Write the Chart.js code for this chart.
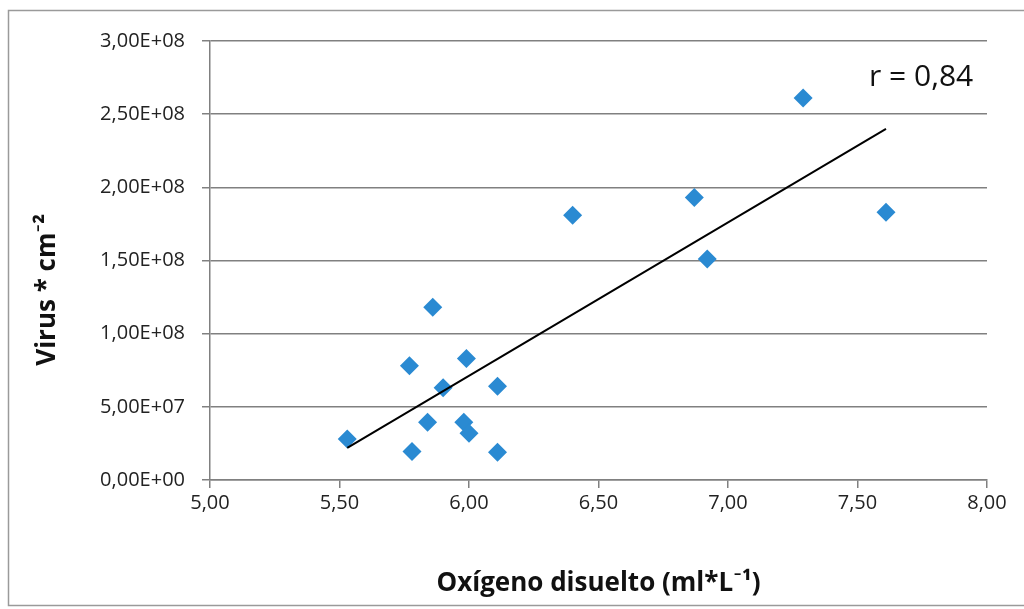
<!DOCTYPE html>
<html><head><meta charset="utf-8">
<script src="https://cdn.jsdelivr.net/npm/chart.js@4/dist/chart.umd.min.js"></script>
<style>html,body{margin:0;padding:0;background:#fff;overflow:hidden}</style>
</head><body>
<canvas id="c" width="1024" height="609" style="display:block;width:1024px;height:609px"></canvas>
<script>
// ---- data ----
const oxygen = [5.86, 5.77, 5.99, 5.90, 6.11, 5.84, 5.98, 6.00, 5.53, 5.78, 6.11, 7.29, 6.87, 6.40, 7.61, 6.92];
const virus  = [1.18e8, 7.8e7, 8.3e7, 6.3e7, 6.4e7, 3.95e7, 3.95e7, 3.2e7, 2.8e7, 1.95e7, 1.9e7, 2.61e8, 1.93e8, 1.81e8, 1.83e8, 1.51e8];
const trendX = [5.53, 7.61];
const trendY = [2.2e7, 2.4e8];
const xTicks = [5, 5.5, 6, 6.5, 7, 7.5, 8];
const yTicks = [0, 5e7, 1e8, 1.5e8, 2e8, 2.5e8, 3e8];
const rLabel = 'r = 0,84';
const xTitle = 'Oxígeno disuelto (ml*L\u207B\u00B9)';
const yTitle = 'Virus * cm\u207B\u00B2';

const FONT = '"Open Sans", Lato, "Liberation Sans", sans-serif';
const GRID = '#808080';

function fmtY(v) {
  const [m, e] = Number(v).toExponential(2).split('e');
  const sign = e[0] === '-' ? '-' : '+';
  const d = e.replace(/[+-]/, '').padStart(2, '0');
  return m.replace('.', ',') + 'E' + sign + d;
}
function fmtX(v) { return Number(v).toFixed(2).replace('.', ','); }

const decor = {
  id: 'decor',
  beforeDraw(chart) {
    const ctx = chart.ctx;
    ctx.save();
    ctx.fillStyle = '#fff';
    ctx.fillRect(0, 0, chart.width, chart.height);
    ctx.strokeStyle = '#9a9a9a';
    ctx.lineWidth = 1.5;
    ctx.beginPath();
    ctx.moveTo(1030, 10.5);
    ctx.lineTo(8.5, 10.5);
    ctx.lineTo(8.5, 605.5);
    ctx.lineTo(1030, 605.5);
    ctx.stroke();
    ctx.restore();
  },
  afterDraw(chart) {
    const ctx = chart.ctx;
    ctx.save();
    ctx.fillStyle = '#111';
    ctx.font = '30px ' + FONT;
    ctx.textAlign = 'left';
    ctx.textBaseline = 'middle';
    ctx.fillText(rLabel, 869, 77);
    ctx.restore();
  }
};

new Chart(document.getElementById('c'), {
  type: 'scatter',
  data: {
    datasets: [
      {
        label: 'Virus',
        data: oxygen.map((x, i) => ({ x, y: virus[i] })),
        pointStyle: 'rectRot',
        pointRadius: 9.5,
        pointHoverRadius: 9.5,
        backgroundColor: '#2a8ad2',
        borderColor: '#2a8ad2',
        borderWidth: 0,
        order: 2
      },
      {
        label: 'Tendencia',
        data: trendX.map((x, i) => ({ x, y: trendY[i] })),
        showLine: true,
        pointRadius: 0,
        borderColor: '#000',
        borderWidth: 2,
        order: 1
      }
    ]
  },
  options: {
    responsive: false,
    animation: false,
    devicePixelRatio: 1,
    layout: { padding: { left: 0, top: 41, right: 37, bottom: 0 } },
    plugins: { legend: { display: false }, tooltip: { enabled: false } },
    scales: {
      x: {
        type: 'linear',
        min: 5, max: 8,
        afterBuildTicks(s) { s.ticks = xTicks.map(v => ({ value: v })); },
        afterFit(s) { s.height = 129; },
        ticks: {
          callback: v => fmtX(v),
          font: { family: FONT, size: 20 },
          color: '#222',
          padding: 3,
          maxRotation: 0
        },
        grid: { drawOnChartArea: false, drawTicks: true, tickLength: 8, color: GRID, lineWidth: 1.5 },
        border: { display: true, color: GRID, width: 1.5 },
        title: {
          display: true,
          text: xTitle,
          font: { family: FONT, size: 26, weight: 'bold' },
          color: '#111',
          padding: { top: 0, bottom: 10 }
        }
      },
      y: {
        type: 'linear',
        min: 0, max: 3e8,
        afterBuildTicks(s) { s.ticks = yTicks.map(v => ({ value: v })); },
        afterFit(s) { s.width = 210; },
        ticks: {
          callback: v => fmtY(v),
          font: { family: FONT, size: 20 },
          color: '#222',
          padding: 17
        },
        grid: { drawOnChartArea: true, drawTicks: true, tickLength: 8, color: GRID, lineWidth: 1.5 },
        border: { display: true, color: GRID, width: 1.5 },
        title: {
          display: true,
          text: yTitle + '\u2002\u2002\u2002\u2002 ',
          font: { family: FONT, size: 26, weight: 'bold' },
          color: '#111',
          padding: { top: 32, bottom: 0 }
        }
      }
    }
  },
  plugins: [decor]
});
</script>
</body></html>
